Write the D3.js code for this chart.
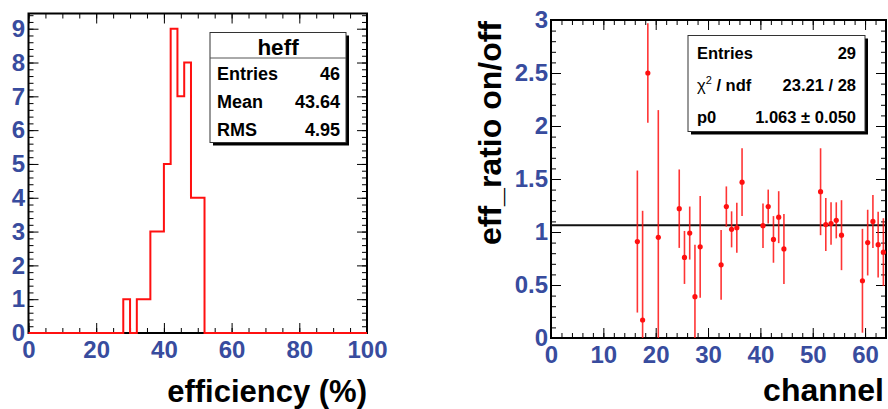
<!DOCTYPE html>
<html>
<head>
<meta charset="utf-8">
<script src="https://cdn.jsdelivr.net/npm/d3@7"></script>
<style>
  html, body { margin: 0; padding: 0; background: #fff; }
  svg text { font-family: "Liberation Sans", Arial, Helvetica, sans-serif; font-weight: bold; }
</style>
</head>
<body>
<div id="chart"></div>
<script>
(function () {
  // left pad: histogram of efficiencies (bin width 2 %)
  const effBinLow = [28, 30, 32, 34, 36, 38, 40, 42, 44, 46, 48, 50];
  const effCounts = [1, 0, 1, 1, 3, 3, 5, 9, 7, 8, 4, 4];
  const effBinWidth = 2;
  const effXTicks = [0, 20, 40, 60, 80, 100];
  const effYTicks = [0, 1, 2, 3, 4, 5, 6, 7, 8, 9];
  const effStats = [["Entries", "46"], ["Mean", "43.64"], ["RMS", "4.95"]];

  // right pad: on/off efficiency ratio per channel
  const channels = [16, 17, 18, 20, 24, 25, 26, 27, 28, 32, 33, 34, 35, 36, 40, 41, 42, 43, 44, 51, 52, 53, 54, 55, 59, 60, 61, 62, 63];
  const ratios = [0.91, 0.17, 2.50, 0.95, 1.22, 0.76, 0.99, 0.39, 0.86, 0.69, 1.24, 1.025, 1.04, 1.47, 1.06, 1.24, 0.93, 1.14, 0.84, 1.38, 1.07, 1.08, 1.11, 0.97, 0.54, 0.90, 1.10, 0.88, 0.81];
  const ratioErrs = [0.67, 1.03, 0.47, 1.20, 0.37, 0.25, 0.25, 0.49, 0.48, 0.33, 0.19, 0.17, 0.235, 0.32, 0.21, 0.16, 0.22, 0.245, 0.33, 0.41, 0.25, 0.20, 0.17, 0.33, 0.49, 0.31, 0.25, 0.31, 0.32];
  const fitP0 = 1.063;
  const chXTicks = [0, 10, 20, 30, 40, 50, 60];
  const chYTicks = [0, 0.5, 1, 1.5, 2, 2.5, 3];

  const blue = "#384c9e";
  const red = "#ff1010";

  const svg = d3
    .select("#chart")
    .append("svg")
    .attr("width", 888)
    .attr("height", 409);

  svg.append("rect").attr("width", 888).attr("height", 409).attr("fill", "#fff");

  // axes with ROOT-style inward ticks on all four sides
  function drawFrame(g, x, y, opt) {
    const [x0, x1] = x.range();
    const [y1, y0] = y.range();

    const sides = [
      { mk: () => d3.axisBottom(x), tr: `translate(0,${y1})`, major: opt.xMajor, minor: opt.xMinor, label: true, pad: opt.xPad },
      { mk: () => d3.axisTop(x), tr: `translate(0,${y0})`, major: opt.xMajor, minor: opt.xMinor, label: false },
      { mk: () => d3.axisLeft(y), tr: `translate(${x0},0)`, major: opt.yMajor, minor: opt.yMinor, label: true, pad: opt.yPad },
      { mk: () => d3.axisRight(y), tr: `translate(${x1},0)`, major: opt.yMajor, minor: opt.yMinor, label: false }
    ];

    sides.forEach((s) => {
      // minor ticks
      g.append("g")
        .attr("transform", s.tr)
        .call(s.mk().tickValues(s.minor).tickSize(-5).tickFormat(""))
        .call((a) => a.select(".domain").remove());

      // major ticks (+ labels on bottom / left)
      const a = g.append("g")
        .attr("transform", s.tr)
        .call(
          s.mk()
            .tickValues(s.major)
            .tickSize(-10)
            .tickPadding(s.pad || 0)
            .tickFormat(s.label ? (d) => String(d) : "")
        );
      a.select(".domain").remove();
      a.selectAll("text")
        .attr("fill", blue)
        .attr("font-size", 24)
        .attr("font-family", null);
    });

    g.selectAll(".tick line").attr("stroke", "#000").attr("stroke-width", 1);

    g.append("rect")
      .attr("x", x0)
      .attr("y", y0)
      .attr("width", x1 - x0)
      .attr("height", y1 - y0)
      .attr("fill", "none")
      .attr("stroke", "#000")
      .attr("stroke-width", 2);
  }

  function drawStatBox(g, x, y, w, h) {
    g.append("rect")
      .attr("x", x + 3)
      .attr("y", y + 3)
      .attr("width", w)
      .attr("height", h)
      .attr("fill", "#000");
    g.append("rect")
      .attr("x", x)
      .attr("y", y)
      .attr("width", w)
      .attr("height", h)
      .attr("fill", "#fff")
      .attr("stroke", "#333")
      .attr("stroke-width", 1);
  }

  // ---------- left pad ----------
  const xEff = d3.scaleLinear().domain([0, 100]).range([28.5, 367]);
  const yEff = d3.scaleLinear().domain([0, 9.45]).range([333, 13.5]);
  const left = svg.append("g");

  const histPts = [[0, 0]];
  effBinLow.forEach((lo, i) => {
    histPts.push([lo, i === 0 ? 0 : effCounts[i - 1]]);
    histPts.push([lo, effCounts[i]]);
  });
  const lastHi = effBinLow[effBinLow.length - 1] + effBinWidth;
  histPts.push([lastHi, effCounts[effCounts.length - 1]]);
  histPts.push([lastHi, 0]);
  histPts.push([100, 0]);

  drawFrame(left, xEff, yEff, {
    xMajor: effXTicks,
    xMinor: d3.range(0, 101, 5),
    yMajor: effYTicks,
    yMinor: d3.range(0, 9.45, 0.2),
    xPad: 8,
    yPad: 3.5
  });

  left.append("path")
    .attr("d", d3.line().x((d) => xEff(d[0])).y((d) => yEff(d[1]))(histPts))
    .attr("fill", "none")
    .attr("stroke", red)
    .attr("stroke-width", 2);

  drawStatBox(left, 210, 32.5, 136, 110);
  left.append("line")
    .attr("x1", 210).attr("x2", 346)
    .attr("y1", 58).attr("y2", 58)
    .attr("stroke", "#555").attr("stroke-width", 1);
  left.append("text")
    .attr("x", 278)
    .attr("y", 55)
    .attr("text-anchor", "middle")
    .attr("font-size", 22.5)
    .text("heff");
  effStats.forEach((r, i) => {
    const by = 80 + i * 28;
    left.append("text").attr("x", 217).attr("y", by).attr("font-size", 18).text(r[0]);
    left.append("text").attr("x", 340).attr("y", by).attr("font-size", 18)
      .attr("text-anchor", "end").text(r[1]);
  });

  left.append("text")
    .attr("x", 367)
    .attr("y", 402)
    .attr("text-anchor", "end")
    .attr("font-size", 31)
    .text("efficiency (%)");

  // ---------- right pad ----------
  const xCh = d3.scaleLinear().domain([0, 64]).range([551, 886]);
  const yR = d3.scaleLinear().domain([0, 3]).range([338, 20]);
  const right = svg.append("g");

  drawFrame(right, xCh, yR, {
    xMajor: chXTicks,
    xMinor: d3.range(0, 65, 2),
    yMajor: chYTicks,
    yMinor: d3.range(0, 3.01, 0.1),
    xPad: 8,
    yPad: 3
  });

  const pts = channels.map((c, i) => ({ x: c + 0.5, y: ratios[i], e: ratioErrs[i] }));
  const clip = (v) => Math.max(0, Math.min(3, v));

  right.append("line")
    .attr("x1", xCh(0)).attr("x2", xCh(64))
    .attr("y1", yR(fitP0)).attr("y2", yR(fitP0))
    .attr("stroke", "#111").attr("stroke-width", 2);

  right.selectAll("line.err")
    .data(pts)
    .join("line")
    .attr("class", "err")
    .attr("x1", (d) => xCh(d.x))
    .attr("x2", (d) => xCh(d.x))
    .attr("y1", (d) => yR(clip(d.y - d.e)))
    .attr("y2", (d) => yR(clip(d.y + d.e)))
    .attr("stroke", red)
    .attr("stroke-opacity", 0.85)
    .attr("stroke-width", 1.6);

  right.selectAll("circle.pt")
    .data(pts)
    .join("circle")
    .attr("class", "pt")
    .attr("cx", (d) => xCh(d.x))
    .attr("cy", (d) => yR(d.y))
    .attr("r", 2.6)
    .attr("fill", red);

  drawStatBox(right, 688, 35.5, 177, 96);
  const rx0 = 697, rx1 = 856;
  right.append("text").attr("x", rx0).attr("y", 58.5).attr("font-size", 16.5).text("Entries");
  right.append("text").attr("x", rx1).attr("y", 58.5).attr("font-size", 16.5)
    .attr("text-anchor", "end").text(String(channels.length));
  const chi = right.append("text").attr("x", rx0).attr("y", 91).attr("font-size", 16.5);
  chi.append("tspan").attr("font-weight", "normal").text("χ");
  chi.append("tspan").attr("dy", -7).attr("font-size", 11).attr("font-weight", "normal").text("2");
  chi.append("tspan").attr("dy", 7).text(" / ndf");
  right.append("text").attr("x", rx1).attr("y", 91).attr("font-size", 16.5)
    .attr("text-anchor", "end").text("23.21 / 28");
  right.append("text").attr("x", rx0).attr("y", 123).attr("font-size", 16.5).text("p0");
  right.append("text").attr("x", rx1).attr("y", 123).attr("font-size", 16.5)
    .attr("text-anchor", "end").text(`${fitP0.toFixed(3)} ± 0.050`);

  right.append("text")
    .attr("transform", "translate(501,21) rotate(-90)")
    .attr("text-anchor", "end")
    .attr("font-size", 32)
    .text("eff_ratio on/off");

  right.append("text")
    .attr("x", 884)
    .attr("y", 401)
    .attr("text-anchor", "end")
    .attr("font-size", 32)
    .text("channel");
})();
</script>
</body>
</html>
